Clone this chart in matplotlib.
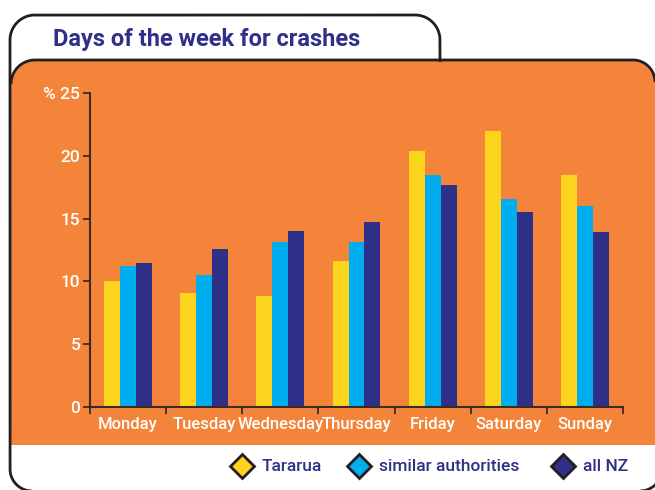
import matplotlib
matplotlib.use('Agg')
import matplotlib.pyplot as plt
import numpy as np
from matplotlib.path import Path
from matplotlib.patches import PathPatch
from matplotlib import font_manager

# ---- data ----
days = ['Monday', 'Tuesday', 'Wednesday', 'Thursday', 'Friday', 'Saturday', 'Sunday']
tararua = [10.0, 9.1, 8.8, 11.6, 20.4, 22.0, 18.5]
similar = [11.2, 10.5, 13.1, 13.1, 18.5, 16.6, 16.0]
all_nz = [11.5, 12.6, 14.0, 14.7, 17.7, 15.5, 13.9]
series_names = ['Tararua', 'similar authorities', 'all NZ']
yticks = [0, 5, 10, 15, 20, 25]
ytick_labels = ['0', '5', '10', '15', '20', '% 25']
title = 'Days of the week for crashes'

# ---- style ----
YELLOW = '#fdd41d'
CYAN = '#00aeef'
NAVY = '#2f3088'
ORANGE = '#f4843a'
DARK = '#231f20'
AXC = '#3d2b1f'
colors = [YELLOW, CYAN, NAVY]

names = {f.name for f in font_manager.fontManager.ttflist}
FAM = 'Liberation Sans Narrow' if 'Liberation Sans Narrow' in names else 'Roboto'
plt.rcParams['font.family'] = [FAM, 'DejaVu Sans']
WT = 'medium'

fig = plt.figure(figsize=(6.55, 4.9), dpi=100)
fig.patch.set_facecolor('white')

bg = fig.add_axes([0, 0, 1, 1], zorder=0)
bg.set_xlim(0, 655)
bg.set_ylim(490, 0)
bg.axis('off')


def arc(cx, cy, r, t0, t1, n=40):
    t = np.radians(np.linspace(t0, t1, n))
    return list(zip(cx + r * np.cos(t), cy + r * np.sin(t)))


outer = ([(440, 62), (440, 40)] + arc(415, 40, 25, 0, -90) + arc(35, 40, 25, -90, -180)
         + arc(32, 469, 22, 180, 90) + arc(640, 469, 22, 90, 0) + [(662, 62)])
bg.add_patch(PathPatch(Path(outer), facecolor='white', edgecolor='none', zorder=1))

orange = ([(11, 445), (11, 84)] + arc(35, 84, 24, 180, 270) + arc(633, 82, 22, 270, 360)
          + [(660, 82), (660, 445), (11, 445)])
bg.add_patch(PathPatch(Path(orange), facecolor=ORANGE, edgecolor='none', zorder=2))

bg.add_patch(PathPatch(Path(outer), facecolor='none', edgecolor=DARK, lw=2.0, zorder=3,
                       capstyle='butt', joinstyle='round'))
top_line = arc(35, 84, 24, 180, 270) + arc(633, 82, 22, 270, 360)
bg.add_patch(PathPatch(Path(top_line), facecolor='none', edgecolor=DARK, lw=2.0, zorder=3,
                       capstyle='butt'))

bg.text(53, 46, title, color=NAVY, fontsize=17, fontweight='bold', va='baseline', ha='left',
        zorder=4)

# legend
leg_x = [242, 359, 563]
for lx, c, nm in zip(leg_x, colors, series_names):
    bg.plot([lx], [466], marker='D', ms=12, mfc=c, mec=DARK, mew=2, zorder=4)
    bg.text(lx + 20, 466, nm, color=NAVY, fontsize=12.5, fontweight=WT, va='center',
            ha='left', zorder=4)

# ---- chart ----
ax = fig.add_axes([90 / 655, 1 - 407 / 490, 533 / 655, 314 / 490], zorder=2)
ax.set_facecolor('none')
x = np.arange(len(days))
w = 0.21
for i, (vals, c) in enumerate(zip([tararua, similar, all_nz], colors)):
    ax.bar(x + (i - 1) * w, vals, w, color=c, linewidth=0, zorder=2)

ax.set_xlim(-0.5, len(days) - 0.5)
ax.set_ylim(0, 25)
for s in ['top', 'right']:
    ax.spines[s].set_visible(False)
for s in ['left', 'bottom']:
    ax.spines[s].set_color(AXC)
    ax.spines[s].set_linewidth(1.5)

ax.set_yticks(yticks, ytick_labels)
ax.tick_params(axis='y', direction='out', length=5, width=1.3, color=AXC,
               labelcolor='white', labelsize=12.5, pad=2)
ax.set_xticks(np.arange(-0.5, len(days)), [''] * (len(days) + 1))
ax.set_xticks(x, days, minor=True)
ax.tick_params(axis='x', which='major', direction='out', length=5, width=1.3, color=AXC)
ax.tick_params(axis='x', which='minor', length=0, labelcolor='white', labelsize=12, pad=7)
for lab in ax.get_xticklabels(minor=True) + ax.get_yticklabels():
    lab.set_fontweight(WT)

fig.savefig('out.png', dpi=100, facecolor='white')
